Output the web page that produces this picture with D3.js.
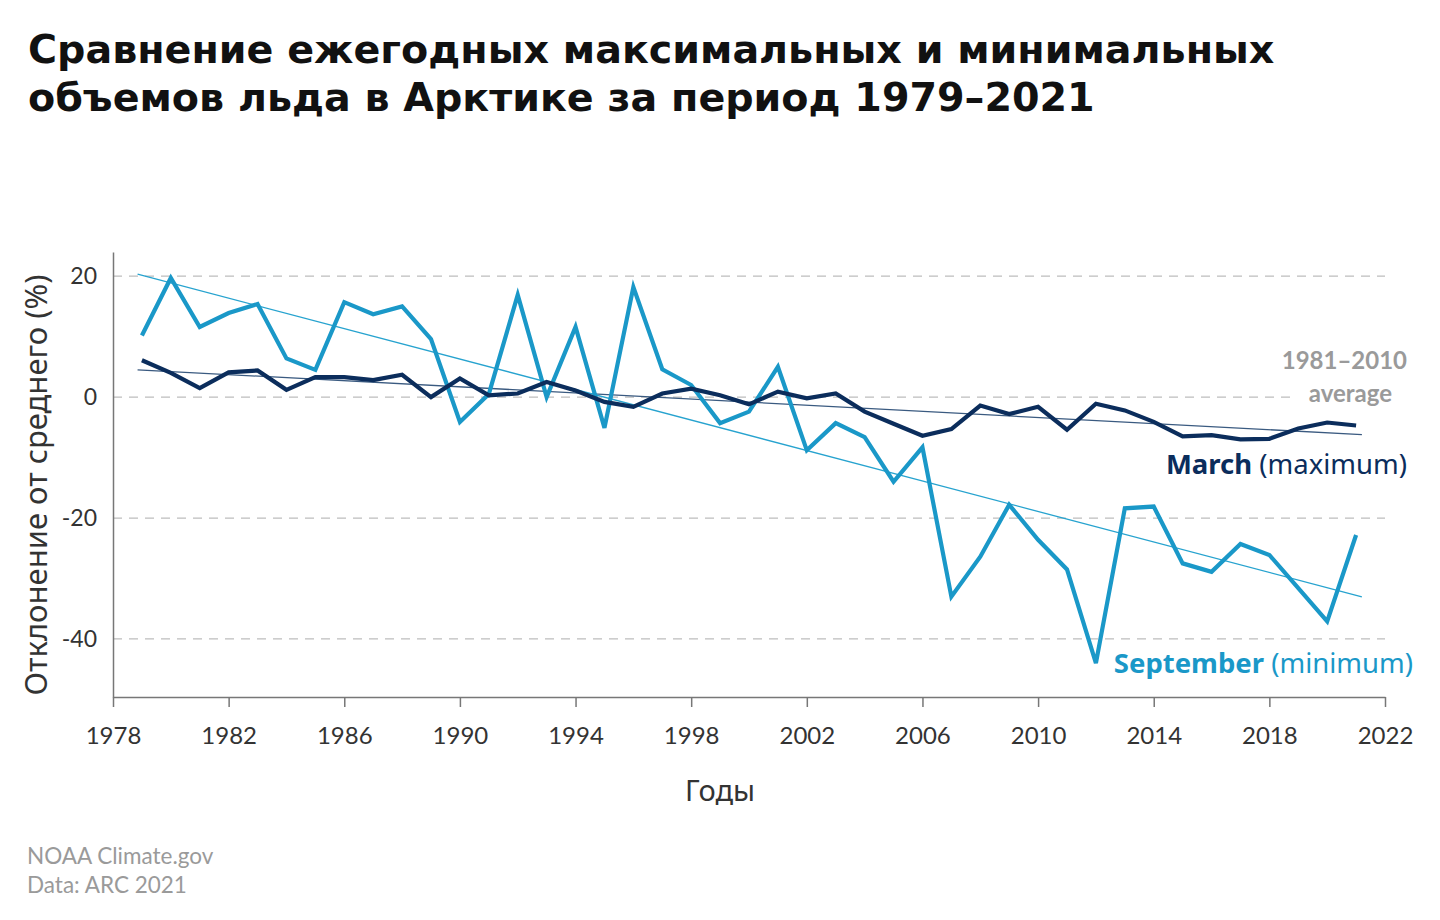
<!DOCTYPE html>
<html><head><meta charset="utf-8">
<script src="https://cdn.jsdelivr.net/npm/d3@7"></script>
<style>
html,body{margin:0;padding:0;background:#fff;}
svg{display:block;}
</style></head>
<body>
<svg id="c" width="1440" height="920"></svg>
<script>
const years = d3.range(1979, 2022);
const marchValues = [6.1,4.0,1.5,4.1,4.4,1.2,3.3,3.3,2.8,3.7,0.0,3.1,0.3,0.6,2.5,1.1,-0.8,-1.6,0.6,1.4,0.3,-1.2,0.9,-0.2,0.6,-2.4,-4.4,-6.4,-5.3,-1.4,-2.8,-1.6,-5.4,-1.1,-2.2,-4.1,-6.5,-6.3,-7.0,-6.9,-5.2,-4.2,-4.7];
const septemberValues = [10.2,19.7,11.6,13.9,15.4,6.4,4.5,15.7,13.7,15.0,9.6,-4.1,0.5,16.9,0.0,11.6,-5.1,18.2,4.6,2.0,-4.3,-2.4,5.0,-8.8,-4.3,-6.6,-14.0,-8.3,-33.0,-26.4,-17.8,-23.6,-28.5,-44.0,-18.4,-18.1,-27.5,-28.9,-24.3,-26.1,-31.6,-37.1,-22.8];
const yTicks = [20, 0, -20, -40];
const xTicks = d3.range(1978, 2023, 4);
const titleLines = ["Сравнение ежегодных максимальных и минимальных", "объемов льда в Арктике за период 1979–2021"];

const svg = d3.select("#c");
const x = d3.scaleLinear().domain([1978, 2022]).range([113, 1385]);
const y = d3.scaleLinear().domain([-49.6, 24]).range([697, 252]);
const FONT = "Lato, 'Noto Sans', sans-serif";
const FONT2 = "'Noto Sans', 'Open Sans', sans-serif";
const cMarch = "#0b2d5c", cSep = "#1a98c8";

// title
const tg = svg.append("g");
const tt = tg.selectAll("text").data(titleLines).join("text")
  .attr("x", 28).attr("y", (d,i) => 63 + i*48)
  .attr("font-family", "'DejaVu Sans', 'Open Sans', sans-serif").attr("font-weight", 700)
  .attr("font-size", 36).attr("fill", "#111").text(d => d);
const w0 = tt.node().getComputedTextLength();
const fs = Math.min(40, 36 * 1247 / w0);
tt.attr("font-size", fs);

// grid
svg.append("g").selectAll("line").data(yTicks).join("line")
  .attr("x1", 113).attr("x2", d => d === 0 ? 1292 : 1385)
  .attr("y1", d => y(d)).attr("y2", d => y(d))
  .attr("stroke", "#bdbdbd").attr("stroke-width", 1.3).attr("stroke-dasharray", "9,7");

// y axis
const ya = svg.append("g").attr("transform", "translate(113,0)")
  .call(d3.axisLeft(y).tickValues(yTicks).tickFormat(d => String(d)).tickSize(0).tickPadding(16));
ya.select(".domain").attr("stroke", "#777").attr("stroke-width", 1.5);
ya.selectAll("text").attr("font-family", FONT).attr("font-size", 23).attr("fill", "#333");

// x axis
const xa = svg.append("g").attr("transform", "translate(0,697)")
  .call(d3.axisBottom(x).tickValues(xTicks).tickFormat(d3.format("d")).tickSize(10).tickSizeOuter(0).tickPadding(20));
xa.select(".domain").attr("stroke", "#777").attr("stroke-width", 1.5);
xa.selectAll(".tick line").attr("stroke", "#777").attr("stroke-width", 1.5);
xa.selectAll("text").attr("font-family", FONT).attr("font-size", 24).attr("fill", "#333");

// axis titles
svg.append("text").attr("transform", "translate(47,485) rotate(-90)")
  .attr("text-anchor", "middle").attr("font-family", FONT2).attr("font-size", 31).attr("fill", "#333")
  .text("Отклонение от среднего (%)");
svg.append("text").attr("x", 720).attr("y", 801).attr("text-anchor", "middle")
  .attr("font-family", FONT2).attr("font-size", 29).attr("fill", "#333").text("Годы");

// trend lines via least squares
function trend(vals) {
  const mx = d3.mean(years), my = d3.mean(vals);
  const b = d3.sum(years, (t,i) => (t-mx)*(vals[i]-my)) / d3.sum(years, t => (t-mx)**2);
  const a = my - b*mx;
  return [1978.85, 2021.2].map(t => [t, a + b*t]);
}
const line = d3.line().x(d => x(d[0])).y(d => y(d[1]));
svg.append("path").datum(trend(marchValues)).attr("d", line).attr("fill", "none").attr("stroke", "#3a5a80").attr("stroke-width", 1.3);
svg.append("path").datum(trend(septemberValues)).attr("d", line).attr("fill", "none").attr("stroke", "#27a3cf").attr("stroke-width", 1.3);

// series
svg.append("path").datum(years.map((t,i) => [t, septemberValues[i]])).attr("d", line)
  .attr("fill", "none").attr("stroke", cSep).attr("stroke-width", 4.2).attr("stroke-linejoin", "miter");
svg.append("path").datum(years.map((t,i) => [t, marchValues[i]])).attr("d", line)
  .attr("fill", "none").attr("stroke", cMarch).attr("stroke-width", 4.2).attr("stroke-linejoin", "miter");

// annotations
const ann = svg.append("g").attr("font-family", FONT).attr("text-anchor", "end");
ann.append("text").attr("x", 1407).attr("y", 369).attr("font-size", 24).attr("font-weight", 700).attr("fill", "#9a9a9a").text("1981–2010");
ann.append("text").attr("x", 1392).attr("y", 402).attr("font-size", 24).attr("font-weight", 700).attr("fill", "#9a9a9a").text("average");
const m = ann.append("text").attr("x", 1407).attr("y", 474).attr("font-family", FONT2).attr("font-size", 27.5).attr("fill", cMarch);
m.append("tspan").attr("font-weight", 700).text("March");
m.append("tspan").text(" (maximum)");
const s = ann.append("text").attr("x", 1413).attr("y", 673).attr("font-family", FONT2).attr("font-size", 27.5).attr("fill", cSep);
s.append("tspan").attr("font-weight", 700).text("September");
s.append("tspan").text(" (minimum)");

// source
svg.append("g").selectAll("text").data(["NOAA Climate.gov", "Data: ARC 2021"]).join("text")
  .attr("x", 27).attr("y", (d,i) => 864 + i*29).attr("font-family", FONT).attr("font-size", 22.5).attr("fill", "#9a9a9a").text(d => d);
</script>
</body></html>
